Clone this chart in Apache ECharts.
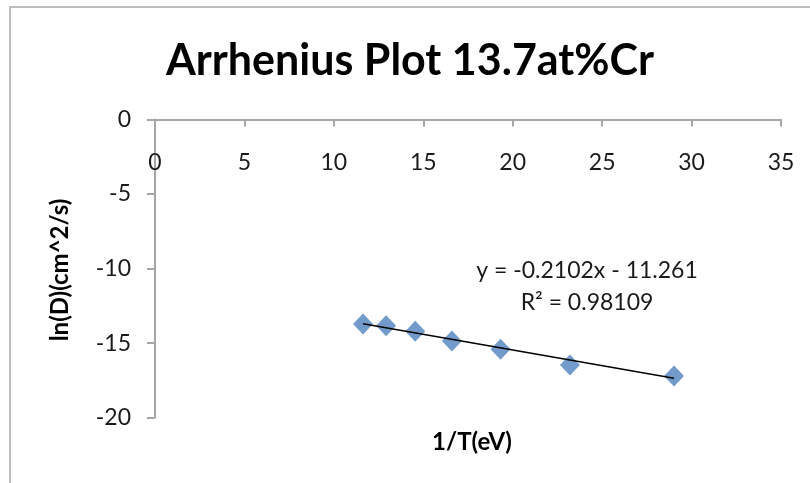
<!DOCTYPE html>
<html>
<head>
<meta charset="utf-8">
<script src="https://cdn.jsdelivr.net/npm/echarts@6/dist/echarts.min.js"></script>
<style>
  html, body { margin: 0; padding: 0; background: #fff; }
  #chart { width: 810px; height: 483px; }
</style>
</head>
<body>
<div id="chart"></div>
<script>
// Measured diffusion data: 1/T and ln(D)
const invT = [11.63, 12.92, 14.55, 16.60, 19.32, 23.20, 29.02];
const lnD = [-13.72, -13.83, -14.21, -14.86, -15.41, -16.46, -17.20];

// Linear fit shown on the chart
const fitSlope = -0.2102;
const fitIntercept = -11.261;
const fitR2 = 0.98109;

const xTicks = [0, 35, 5];   // min, max, step
const yTicks = [-20, 0, 5];

const titleText = 'Arrhenius Plot 13.7at%Cr';
const xName = '1/T(eV)';
const yName = 'ln(D)(cm^2/s)';

const FONT = 'Lato, "Open Sans", sans-serif';

const xMin = Math.min(...invT), xMax = Math.max(...invT);
const fitLine = [xMin, xMax].map(x => [x, fitSlope * x + fitIntercept]);

const fmt = v => (v < 0 ? '- ' + Math.abs(v) : '+ ' + v);
const eqText = 'y = ' + fitSlope + 'x ' + fmt(fitIntercept);
const r2Text = 'R² = ' + fitR2;

const chart = echarts.init(document.getElementById('chart'), null, { renderer: 'canvas' });

chart.setOption({
  animation: false,
  backgroundColor: '#ffffff',
  grid: { left: 155, top: 119.5, right: 29, bottom: 65.3 },
  xAxis: {
    type: 'value',
    position: 'top',   // the y = 0 line sits at the top of the plot
    min: xTicks[0], max: xTicks[1], interval: xTicks[2],
    splitLine: { show: false },
    axisLine: { onZero: false, lineStyle: { color: '#a6a6a6', width: 2 } },
    axisTick: { show: true, inside: true, length: 7, lineStyle: { color: '#a6a6a6', width: 2 } },
    axisLabel: { inside: true, margin: 32, color: '#1a1a1a', fontSize: 23, fontFamily: FONT }
  },
  yAxis: {
    type: 'value',
    min: yTicks[0], max: yTicks[1], interval: yTicks[2],
    splitLine: { show: false },
    axisLine: { show: true, onZero: false, lineStyle: { color: '#a6a6a6', width: 2 } },
    axisTick: { show: true, length: 8, lineStyle: { color: '#a6a6a6', width: 2 } },
    axisLabel: { margin: 24, color: '#1a1a1a', fontSize: 23, fontFamily: FONT }
  },
  series: [
    {
      type: 'scatter',
      data: invT.map((x, i) => [x, lnD[i]]),
      symbol: 'diamond',
      symbolSize: [20, 21],
      itemStyle: { color: '#4f81bd' },
      z: 2
    },
    {
      type: 'line',
      data: fitLine,
      symbol: 'none',
      lineStyle: { color: '#000000', width: 1.5 },
      z: 3
    }
  ],
  graphic: [
    {
      type: 'rect',
      shape: { x: 10, y: 7, width: 900, height: 600 },
      style: { fill: 'none', stroke: '#bdbdbd', lineWidth: 2 },
      silent: true
    },
    {
      type: 'text',
      x: 410, y: 61,
      style: {
        text: titleText, fill: '#000', font: 'bold 43px ' + FONT,
        textAlign: 'center', textVerticalAlign: 'middle'
      }
    },
    {
      type: 'text',
      x: 472, y: 442,
      style: {
        text: xName, fill: '#000', font: 'bold 24px ' + FONT,
        textAlign: 'center', textVerticalAlign: 'middle'
      }
    },
    {
      type: 'text',
      x: 60, y: 270,
      rotation: Math.PI / 2,
      style: {
        text: yName, fill: '#000', font: 'bold 24px ' + FONT,
        textAlign: 'center', textVerticalAlign: 'middle'
      }
    },
    {
      type: 'text',
      x: 587, y: 271,
      style: {
        text: eqText, fill: '#1a1a1a', font: '23px ' + FONT,
        textAlign: 'center', textVerticalAlign: 'middle'
      }
    },
    {
      type: 'text',
      x: 587, y: 303,
      style: {
        text: r2Text, fill: '#1a1a1a', font: '23px ' + FONT,
        textAlign: 'center', textVerticalAlign: 'middle'
      }
    }
  ]
});
</script>
</body>
</html>
